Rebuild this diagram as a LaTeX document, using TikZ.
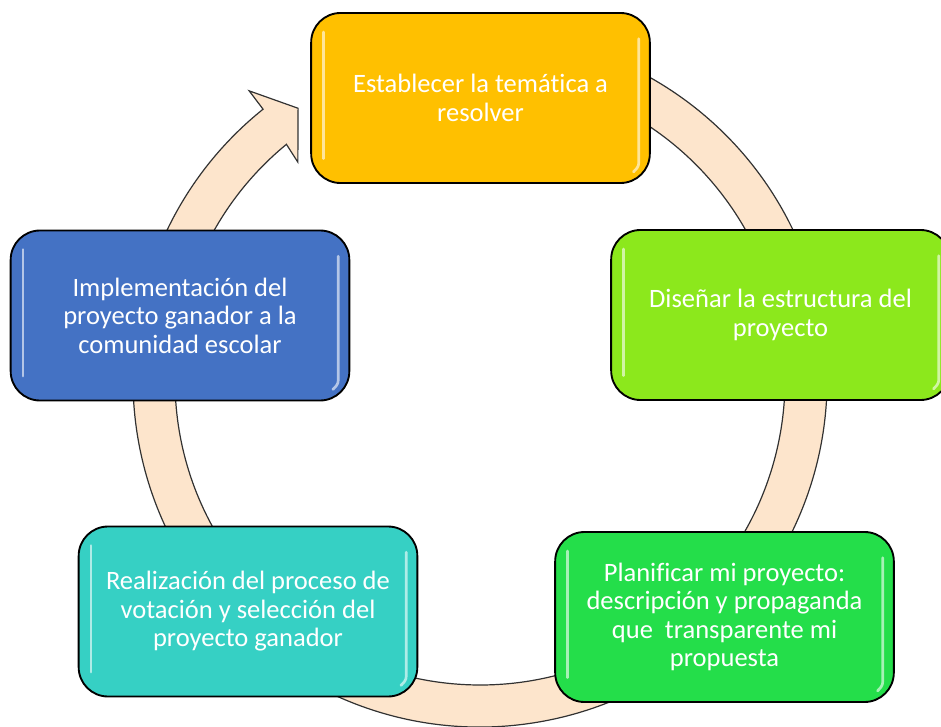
\documentclass[tikz,border=0pt]{standalone}
\usepackage{fontspec}
\setmainfont[Ligatures={NoCommon}]{Carlito}
\definecolor{cA}{RGB}{255,192,0}
\definecolor{cB}{RGB}{140,232,28}
\definecolor{cC}{RGB}{36,222,74}
\definecolor{cD}{RGB}{54,208,196}
\definecolor{cE}{RGB}{68,114,196}
\definecolor{ringfill}{RGB}{253,229,204}
\definecolor{ringline}{RGB}{50,50,50}
\begin{document}
\begin{tikzpicture}[x=0.75pt,y=0.75pt,
  stepbox/.style={draw=black, line width=1.4pt, rounded corners=22pt,
    minimum width=254pt, minimum height=127.5pt, text=white, align=center,
    font=\fontsize{19.9}{21.4}\selectfont, inner sep=0pt},
  ring/.style={fill=ringfill, draw=ringline, line width=0.9pt, line join=miter},
  gloss/.style={white, opacity=0.6, line width=2pt, line cap=round}]
\useasboundingbox (0,0) rectangle (941,726);
\clip (0,0) rectangle (941,726);
% circular arrow
\begin{scope}[shift={(480,346)}]
  \draw[ring] (100:347) arc[start angle=100, end angle=-231.3, radius=347]
    -- (-231.4:370) -- (-236.2:327) -- (-230.1:284) -- (-230.6:305)
    arc[start angle=-230.6, end angle=100, radius=305] -- cycle;
\end{scope}
% steps
\node[stepbox, fill=cA] (n1) at (480.5,628) {Establecer la temática a\\resolver};
\node[stepbox, fill=cB] (n2) at (780.5,411) {Diseñar la estructura del\\proyecto};
\node[stepbox, fill=cC] (n3) at (724.5,109) {Planificar mi proyecto:\\descripción y propaganda\\que~ transparente mi\\propuesta};
\node[stepbox, fill=cD] (n4) at (248,114.5) {Realización del proceso de\\votación y selección del\\proyecto ganador};
\node[stepbox, fill=cE] (n5) at (180,410.5) {Implementación del\\proyecto ganador a la\\comunidad escolar};
% gloss highlights
\foreach \n in {n1,n2,n3,n4,n5}{
  \draw[gloss] ([xshift=10pt,yshift=-15pt]\n.north west) -- ([xshift=10pt,yshift=19pt]\n.south west);
  \draw[gloss] ([xshift=-9pt,yshift=-20pt]\n.north east) -- ([xshift=-9pt,yshift=16pt]\n.south east) to[out=-90,in=45] ([xshift=-13pt,yshift=9pt]\n.south east);
}
\end{tikzpicture}
\end{document}
